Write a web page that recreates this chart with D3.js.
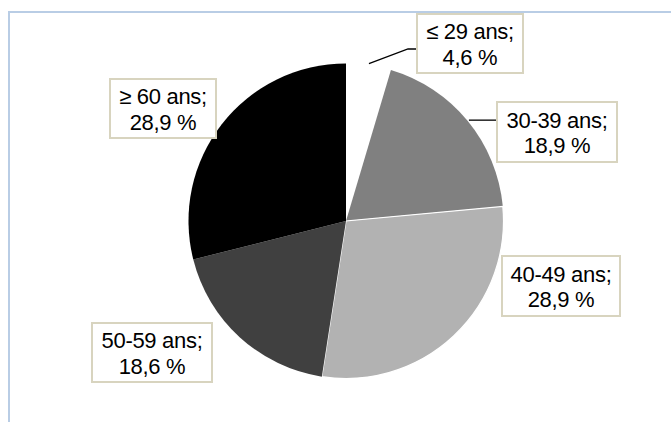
<!DOCTYPE html>
<html>
<head>
<meta charset="utf-8">
<script src="https://cdn.jsdelivr.net/npm/d3@7"></script>
<style>
  body { margin: 0; background: #fff; }
  svg { display: block; font-family: "Liberation Sans", Arial, sans-serif; }
</style>
</head>
<body>
<svg width="671" height="422"></svg>
<script>
  const ageGroups = ['≤ 29 ans', '30-39 ans', '40-49 ans', '50-59 ans', '≥ 60 ans'];
  const shares = [4.6, 18.9, 28.9, 18.6, 28.9];
  const shareLabels = ['4,6 %', '18,9 %', '28,9 %', '18,6 %', '28,9 %'];
  const sliceColors = ['#ffffff', '#808080', '#b2b2b2', '#404040', '#000000'];

  // label box placement (layout only)
  const labelBoxes = [
    { x: 417, y: 14, w: 106, h: 59, leader: 'elbow' },
    { x: 497, y: 102, w: 120, h: 60, leader: 'straight' },
    { x: 502, y: 256, w: 118, h: 60 },
    { x: 92, y: 323, w: 120, h: 59 },
    { x: 110, y: 79, w: 106, h: 59 }
  ];

  const svg = d3.select('svg');
  const width = +svg.attr('width');
  const height = +svg.attr('height');

  const cx = 346;
  const cy = 221;
  const radius = 157.5;

  // chart area frame
  svg.append('rect')
      .attr('x', 9)
      .attr('y', 12)
      .attr('width', width + 10)
      .attr('height', height + 10)
      .attr('fill', 'none')
      .attr('stroke', '#b9cde5')
      .attr('stroke-width', 2);

  const data = ageGroups.map((g, i) => ({
    group: g,
    value: shares[i],
    label: shareLabels[i],
    color: sliceColors[i],
    box: labelBoxes[i]
  }));

  const pie = d3.pie()
    .sort(null)
    .value(d => d.value);

  const arc = d3.arc()
    .innerRadius(0)
    .outerRadius(radius);

  const leaderArc = d3.arc()
    .innerRadius(radius + 1.5)
    .outerRadius(radius + 1.5);

  const arcs = pie(data);

  const g = svg.append('g')
      .attr('transform', `translate(${cx},${cy})`);

  g.selectAll('path.slice').data(arcs)
    .enter().append('path')
      .attr('class', 'slice')
      .attr('d', arc)
      .attr('fill', d => d.data.color)
      .attr('stroke', (d, i) => i === 2 ? '#ffffff' : 'none')
      .attr('stroke-width', 1.2);

  // leader lines
  arcs.forEach(d => {
    const b = d.data.box;
    if (!b.leader) return;
    const [sx, sy] = leaderArc.centroid(d);
    const start = [sx + cx, sy + cy];
    let pts;
    if (b.leader === 'elbow') {
      const ly = b.y + 35;
      pts = [start, [b.x - 9, ly], [b.x, ly]];
    } else {
      pts = [start, [b.x, start[1]]];
    }
    svg.append('path')
        .attr('d', d3.line()(pts))
        .attr('fill', 'none')
        .attr('stroke', '#000')
        .attr('stroke-width', 1.3);
  });

  // label boxes
  const labels = svg.selectAll('g.label').data(data)
    .enter().append('g')
      .attr('class', 'label');

  labels.append('rect')
      .attr('x', d => d.box.x)
      .attr('y', d => d.box.y)
      .attr('width', d => d.box.w)
      .attr('height', d => d.box.h)
      .attr('fill', '#ffffff')
      .attr('stroke', '#d8d4bf')
      .attr('stroke-width', 2);

  const text = labels.append('text')
      .attr('text-anchor', 'middle')
      .attr('font-size', 22)
      .attr('letter-spacing', -0.3)
      .attr('fill', '#000');

  text.append('tspan')
      .attr('x', d => d.box.x + d.box.w / 2)
      .attr('y', d => d.box.y + d.box.h / 2 - 4.5)
      .text(d => d.group + ';');

  text.append('tspan')
      .attr('x', d => d.box.x + d.box.w / 2)
      .attr('y', d => d.box.y + d.box.h / 2 + 21)
      .text(d => d.label);
</script>
</body>
</html>
